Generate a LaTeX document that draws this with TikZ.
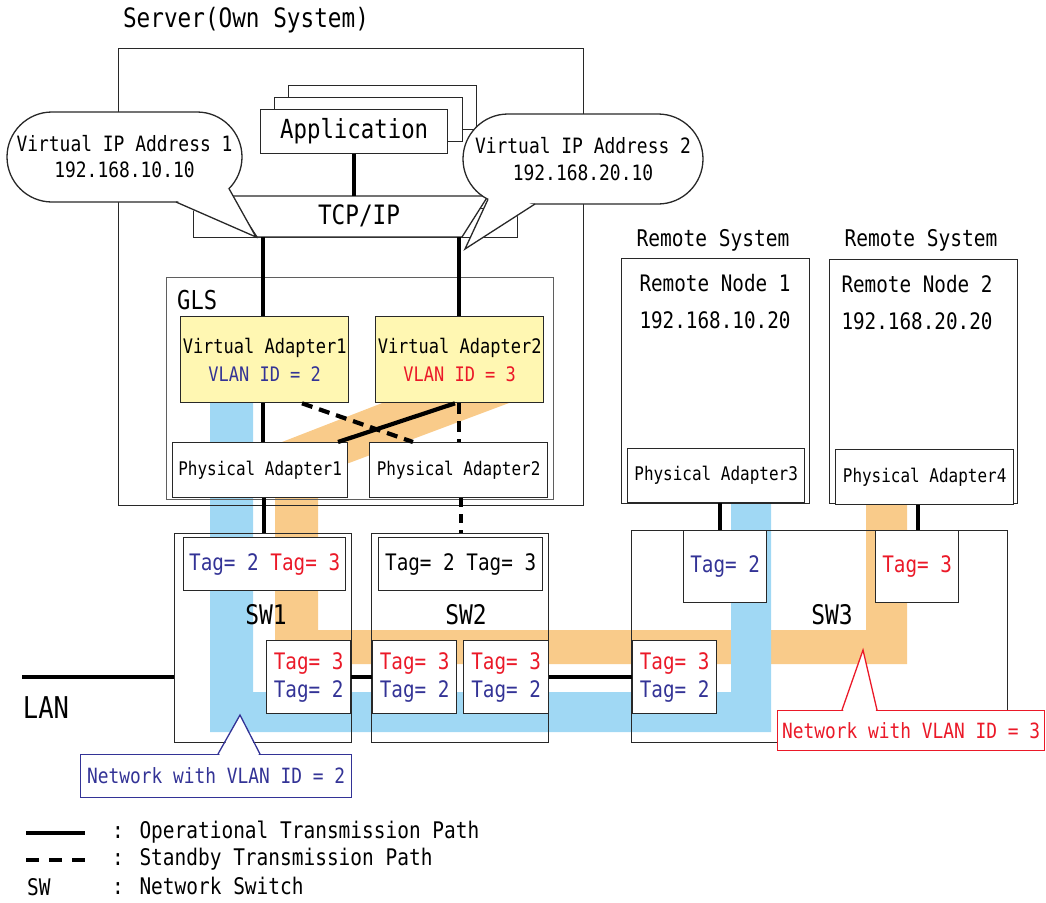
\documentclass[tikz,border=0pt]{standalone}
\usepackage{fontspec}
\newfontfamily\gf{DejaVu Sans Mono}[FakeStretch=0.85]
\newcommand\F[2]{\gf\fontsize{#1}{#2}\selectfont}
\definecolor{dk}{RGB}{40,40,40}
\definecolor{gr}{RGB}{95,95,95}
\definecolor{vb}{RGB}{51,51,150}
\definecolor{vr}{RGB}{235,25,40}
\definecolor{lb}{RGB}{160,216,244}
\definecolor{og}{RGB}{249,203,138}
\definecolor{yl}{RGB}{255,247,178}
\begin{document}
\begin{tikzpicture}[x=1pt,y=-1pt,
  frame/.style={draw=dk, line width=1.3pt, inner sep=0pt, anchor=north west},
  box/.style={frame, fill=white},
  txt/.style={inner sep=0pt, align=center},
  op/.style={line width=4.2pt, black},
  sb/.style={line width=4.2pt, black, dash pattern=on 11pt off 7pt},
  cl/.style={draw=dk, line width=1.3pt, fill=white},
  tagfont/.style={font=\F{22.7}{28}, align=center}]
\useasboundingbox (0,0) rectangle (1046,902);

% ---------- VLAN bands ----------
\fill[og] (390,400) -- (517,400) -- (349,463) -- (228,463) -- cycle;
\fill[og] (275,460) -- (318,460) -- (318,630) -- (866,630) -- (866,503) -- (907,503) -- (907,664) -- (275,664) -- cycle;
\fill[lb] (210,400) -- (253,400) -- (253,692) -- (731,692) -- (731,501) -- (771,501) -- (771,732) -- (210,732) -- cycle;

% ---------- server ----------
\node[txt, font=\F{26.7}{30}] (title) at (246,20) {Server(Own System)};
\node[frame, minimum width=465, minimum height=457] (server) at (118,48) {};

\node[box, minimum width=188, minimum height=44] (appc) at (288,85) {};
\node[box, minimum width=188, minimum height=44] (appb) at (274,97) {};
\node[box, minimum width=187, minimum height=44, font=\F{26.3}{30}] (app) at (260,109) {Application};

\node[box, minimum width=324, minimum height=29] (tcprect) at (193,208) {};
\draw[cl] (230,196) -- (488,196) -- (462,237) -- (257,237) -- cycle;
\node[txt, font=\F{26.7}{30}] (tcp) at (359,216) {TCP/IP};
\coordinate (tcpT) at (354,196);
\coordinate (tcpL) at (263,237);
\coordinate (tcpR) at (459,237);
\draw[op] (app.south -| tcpT) -- (tcpT);

% callouts
\node[cl, minimum width=235, minimum height=90, rounded corners=45pt, inner sep=0pt, align=center, font=\F{21.1}{26}] (vip1) at (124.5,157) {Virtual IP Address 1\\192.168.10.10};
\coordinate (t1a) at (176,202);
\coordinate (t1tip) at (256,237);
\coordinate (t1b) at (229,188.6);
\fill[white] (176,203.2) -- (t1tip) -- (t1b) -- (210,190) -- (185,197) -- cycle;
\draw[draw=dk, line width=1.3pt] (t1a) -- (t1tip) -- (t1b);

\node[cl, minimum width=240, minimum height=90, rounded corners=45pt, inner sep=0pt, align=center, font=\F{21.1}{27}] (vip2) at (583,159) {Virtual IP Address 2\\192.168.20.10};
\coordinate (t2a) at (488,199.3);
\coordinate (t2tip) at (465,249);
\coordinate (t2b) at (535,204);
\fill[white] (t2a) -- (t2tip) -- (535,205.2) -- (520,200) -- (495,195) -- cycle;
\draw[draw=dk, line width=1.3pt] (t2a) -- (t2tip) -- (t2b);

% GLS
\node[frame, draw=gr, minimum width=387, minimum height=222] (gls) at (166,277) {};
\node[txt, anchor=west, font=\F{26}{26}] (glst) at (177,300) {GLS};
\node[box, fill=yl, minimum width=168, minimum height=86, font=\F{20}{28}, align=center] (va1) at (180,316) {Virtual Adapter1\\\textcolor{vb}{VLAN ID = 2}};
\node[box, fill=yl, minimum width=168, minimum height=86, font=\F{20}{28}, align=center] (va2) at (375,316) {Virtual Adapter2\\\textcolor{vr}{VLAN ID = 3}};
\node[box, minimum width=175, minimum height=55, font=\F{18.8}{22}] (pa1) at (172,442) {Physical Adapter1};
\node[box, minimum width=178, minimum height=55, font=\F{18.8}{22}] (pa2) at (369,442) {Physical Adapter2};

\draw[op] (tcpL) -- (va1.north -| tcpL);
\draw[op] (tcpR) -- (va2.north -| tcpR);
\draw[op] (va1.south -| tcpL) -- (pa1.north -| tcpL);
\draw[sb] (va2.south -| tcpR) -- (pa2.north -| tcpR);
\coordinate (d1a) at (302,0);
\coordinate (d1b) at (413,0);
\coordinate (d2a) at (455,0);
\coordinate (d2b) at (338,0);
\draw[sb] (va1.south -| d1a) -- (pa2.north -| d1b);
\draw[op] (va2.south -| d2a) -- (pa1.north -| d2b);

% ---------- remote systems ----------
\node[txt, font=\F{23}{26}] (rs1) at (713,240) {Remote System};
\node[txt, font=\F{23}{26}] (rs2) at (921,240) {Remote System};
\node[box, minimum width=188, minimum height=245] (rn1) at (621,258) {};
\node[box, minimum width=188, minimum height=244] (rn2) at (829,259) {};
\node[txt, font=\F{22.7}{37}] (rn1t) at (715,301.5) {Remote Node 1\\192.168.10.20};
\node[txt, font=\F{22.7}{37}] (rn2t) at (917,302.5) {Remote Node 2\\192.168.20.20};
\node[box, minimum width=177, minimum height=54, font=\F{18.8}{22}] (pa3) at (627,448) {Physical Adapter3};
\node[box, minimum width=178, minimum height=55, font=\F{18.8}{22}] (pa4) at (835,449) {Physical Adapter4};

% ---------- switches ----------
\node[frame, minimum width=177, minimum height=209] (sw1) at (174,533) {};
\node[frame, minimum width=177, minimum height=209] (sw2) at (371,533) {};
\node[frame, minimum width=376, minimum height=212] (sw3) at (631,530) {};
\node[txt, font=\F{27}{30}] (sw1t) at (266,615) {SW1};
\node[txt, font=\F{27}{30}] (sw2t) at (466,615) {SW2};
\node[txt, font=\F{27}{30}] (sw3t) at (832,615) {SW3};

\node[box, minimum width=162, minimum height=53, tagfont] (t1top) at (183,537) {\textcolor{vb}{Tag= 2} \textcolor{vr}{Tag= 3}};
\node[box, minimum width=164, minimum height=53, tagfont] (t2top) at (378,537) {Tag= 2 Tag= 3};
\node[box, minimum width=83, minimum height=72, tagfont] (t3a) at (683,530) {\textcolor{vb}{Tag= 2}};
\node[box, minimum width=83, minimum height=72, tagfont] (t3b) at (875,530) {\textcolor{vr}{Tag= 3}};

\node[box, minimum width=84, minimum height=73, tagfont] (t1l) at (266,640) {\textcolor{vr}{Tag= 3}\\\textcolor{vb}{Tag= 2}};
\node[box, minimum width=84, minimum height=73, tagfont] (t2l) at (372,640) {\textcolor{vr}{Tag= 3}\\\textcolor{vb}{Tag= 2}};
\node[box, minimum width=85, minimum height=73, tagfont] (t2r) at (463,640) {\textcolor{vr}{Tag= 3}\\\textcolor{vb}{Tag= 2}};
\node[box, minimum width=84, minimum height=73, tagfont] (t3l) at (632,640) {\textcolor{vr}{Tag= 3}\\\textcolor{vb}{Tag= 2}};

\coordinate (x264) at (264,0);
\coordinate (x461) at (461,0);
\coordinate (x720) at (720,0);
\coordinate (x918) at (918,0);
\draw[op] (pa1.south -| x264) -- (sw1.north -| x264);
\draw[sb, dash pattern=on 9pt off 7pt] (pa2.south -| x461) -- (sw2.north -| x461);
\draw[op] (pa3.south -| x720) -- (sw3.north -| x720);
\draw[op] (pa4.south -| x918) -- (sw3.north -| x918);

\coordinate (lanE) at (22,677);
\draw[op] (lanE) -- (sw1.west |- lanE);
\draw[op] (t1l.east) -- (t2l.west);
\draw[op] (t2r.east) -- (t3l.west);
\node[txt, font=\F{30}{30}] (lan) at (46,708) {LAN};

% ---------- network callouts ----------
\node[box, draw=vb, minimum width=271, minimum height=43, font=\F{21}{24}, text=vb] (n2) at (80,754) {Network with VLAN ID = 2};
\coordinate (n2a) at (218,754);
\coordinate (n2tip) at (240,715);
\coordinate (n2b) at (260,754);
\fill[white] (219,755.5) -- (n2tip) -- (259,755.5) -- cycle;
\draw[draw=vb, line width=1.3pt] (n2a) -- (n2tip) -- (n2b);

\node[box, draw=vr, minimum width=267, minimum height=40, font=\F{21}{24}, text=vr] (n3) at (777,710) {Network with VLAN ID = 3};
\coordinate (n3a) at (842,710);
\coordinate (n3tip) at (863,650);
\coordinate (n3b) at (877,710);
\fill[white] (843,711.5) -- (n3tip) -- (876,711.5) -- cycle;
\draw[draw=vr, line width=1.3pt] (n3a) -- (n3tip) -- (n3b);

% ---------- legend ----------
\coordinate (lg1a) at (26,833);
\coordinate (lg1b) at (85,833);
\coordinate (lg2a) at (26,860);
\coordinate (lg2b) at (85,860);
\draw[op] (lg1a) -- (lg1b);
\draw[sb, dash pattern=on 13pt off 10pt] (lg2a) -- (lg2b);
\node[txt, anchor=west, font=\F{22.9}{26}] (lgsw) at (27,887) {SW};
\node[txt, anchor=west, font=\F{22.9}{26}] (lg1t) at (112,832) {: Operational Transmission Path};
\node[txt, anchor=west, font=\F{22.9}{26}] (lg2t) at (112,859) {: Standby Transmission Path};
\node[txt, anchor=west, font=\F{22.9}{26}] (lg3t) at (112,886) {: Network Switch};
\end{tikzpicture}
\end{document}
